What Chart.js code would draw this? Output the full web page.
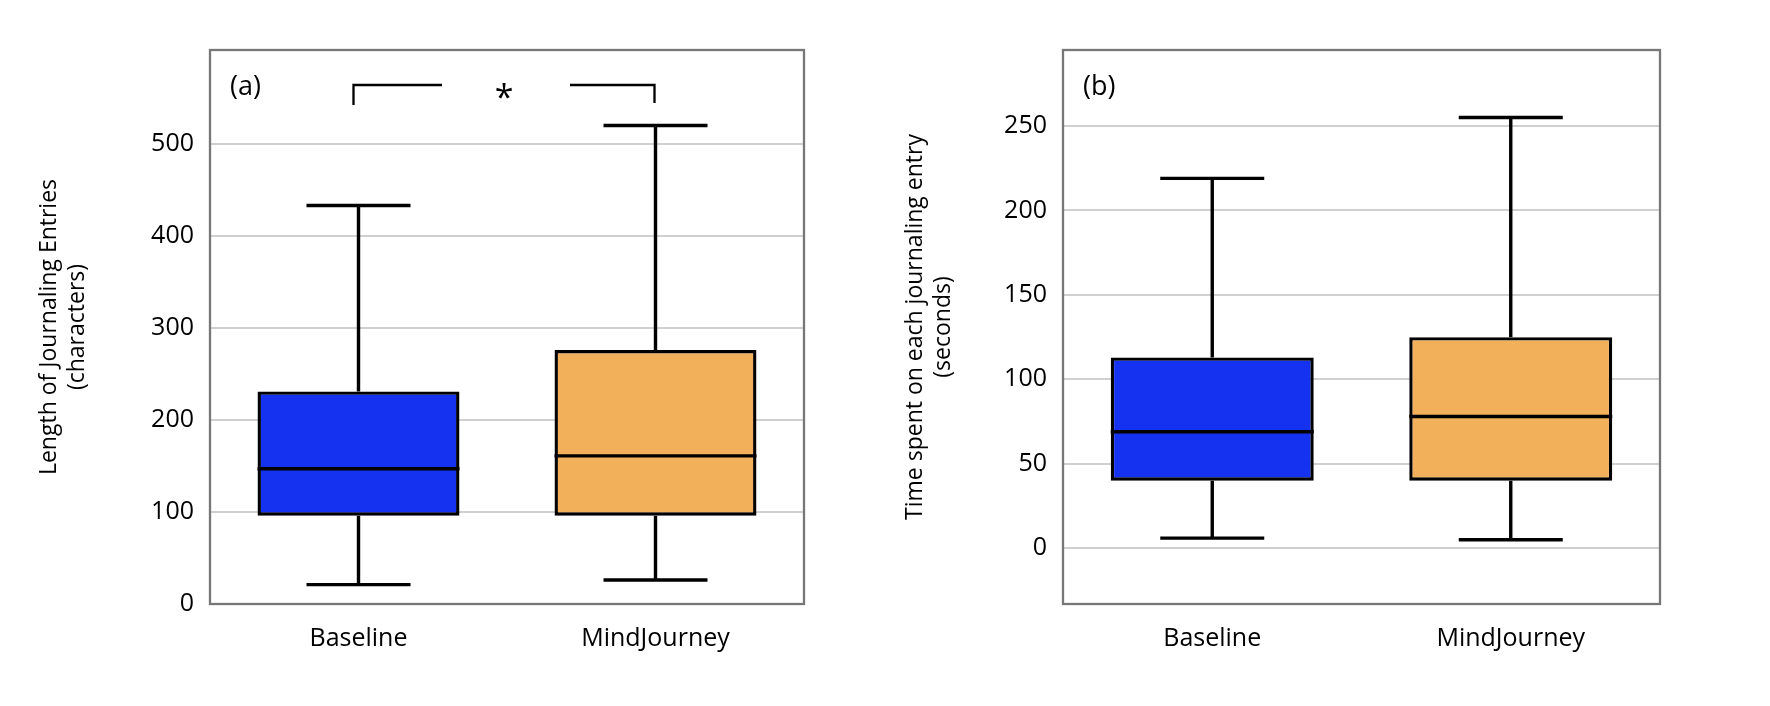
<!DOCTYPE html>
<html><head><meta charset="utf-8">
<script src="https://cdn.jsdelivr.net/npm/chart.js@4"></script>
<style>
body{margin:0;background:#fff;width:1770px;height:706px;position:relative;overflow:hidden}
.w{position:absolute;top:0;height:680px}
</style></head><body>
<div class="w" style="left:32px;width:782px"><canvas id="ca"></canvas></div>
<div class="w" style="left:898px;width:772px"><canvas id="cb"></canvas></div>
<script>
const categories = ['Baseline', 'MindJourney'];
// [min, q1, median, q3, max]
const lengthStats = [[21, 96, 147, 231, 433], [26, 96, 161, 276, 520]];
const timeStats = [[6, 40, 69, 113, 219], [5, 40, 78, 125, 255]];
const lengthTicks = [0, 100, 200, 300, 400, 500];
const timeTicks = [0, 50, 100, 150, 200, 250];
const colors = ['#1432F0', '#F2B05A'];
const FONT = 'Open Sans';

const boxPlugin = {
  id: 'box',
  afterDatasetsDraw(chart, args, opts) {
    const ctx = chart.ctx, y = chart.scales.y, x = chart.scales.x;
    const meta = chart.getDatasetMeta(0);
    ctx.save();
    ctx.strokeStyle = '#000'; ctx.lineWidth = 3.4;
    opts.stats.forEach((s, i) => {
      const el = meta.data[i], cx = el.x, hw = el.width / 2;
      const py = v => y.getPixelForValue(v);
      ctx.beginPath();
      ctx.moveTo(cx - hw, py(s[2])); ctx.lineTo(cx + hw, py(s[2]));
      ctx.moveTo(cx, py(s[3])); ctx.lineTo(cx, py(s[4]));
      ctx.moveTo(cx, py(s[1])); ctx.lineTo(cx, py(s[0]));
      ctx.moveTo(cx - 52, py(s[4])); ctx.lineTo(cx + 52, py(s[4]));
      ctx.moveTo(cx - 52, py(s[0])); ctx.lineTo(cx + 52, py(s[0]));
      ctx.stroke();
    });
    const a = chart.chartArea;
    ctx.strokeStyle = '#777'; ctx.lineWidth = 2.3;
    ctx.strokeRect(a.left, a.top, a.right - a.left, a.bottom - a.top);
    ctx.fillStyle = '#000'; ctx.font = '27px ' + FONT; ctx.textBaseline = 'middle';
    ctx.fillText(opts.label, a.left + 20, a.top + 37);
    if (opts.sig) {
      const x0 = x.getPixelForValue(0) - 5, x1 = x.getPixelForValue(1) - 1;
      const by = a.top + 35, mid = (x0 + x1) / 2;
      ctx.strokeStyle = '#000'; ctx.lineWidth = 2.3;
      ctx.beginPath();
      ctx.moveTo(x0, by + 20); ctx.lineTo(x0, by); ctx.lineTo(mid - 62, by);
      ctx.moveTo(mid + 66, by); ctx.lineTo(x1, by); ctx.lineTo(x1, by + 18);
      ctx.stroke();
      ctx.font = '34px ' + FONT; ctx.textAlign = 'center';
      ctx.fillText('*', mid, by + 14);
    }
    ctx.restore();
  }
};

function make(id, stats, ticks, min, max, title, leftW, label, sig) {
  new Chart(document.getElementById(id), {
    type: 'bar',
    data: { labels: categories, datasets: [{
      data: stats.map(s => [s[1], s[3]]),
      backgroundColor: colors, borderColor: '#000', borderWidth: 3.4, borderSkipped: false,
      barPercentage: 0.68, categoryPercentage: 1
    }]},
    options: {
      responsive: true, maintainAspectRatio: false, animation: false,
      layout: { padding: { top: 50, right: 10 } },
      plugins: { legend: { display: false }, tooltip: { enabled: false },
        box: { stats, label, sig } },
      scales: {
        x: { grid: { display: false }, border: { display: false },
          ticks: { color: '#000', font: { family: FONT, size: 25 }, padding: 12 },
          afterFit: s => { s.height = 76; } },
        y: { min, max, border: { display: false },
          afterBuildTicks: s => { s.ticks = ticks.map(v => ({ value: v })); },
          grid: { color: '#d0d0d0', lineWidth: 2, drawTicks: false },
          ticks: { color: '#000', font: { family: FONT, size: 25 }, padding: 16 },
          title: { display: true, text: title, color: '#000', font: { family: FONT, size: 23 }, padding: 4 },
          afterFit: s => { s.width = leftW; } }
      }
    },
    plugins: [boxPlugin]
  });
}
make('ca', lengthStats, lengthTicks, 0, 602, ['Length of Journaling Entries', '(characters)'], 178, '(a)', true);
make('cb', timeStats, timeTicks, -33, 295, ['Time spent on each journaling entry', '(seconds)'], 165, '(b)', false);
</script>
</body></html>
